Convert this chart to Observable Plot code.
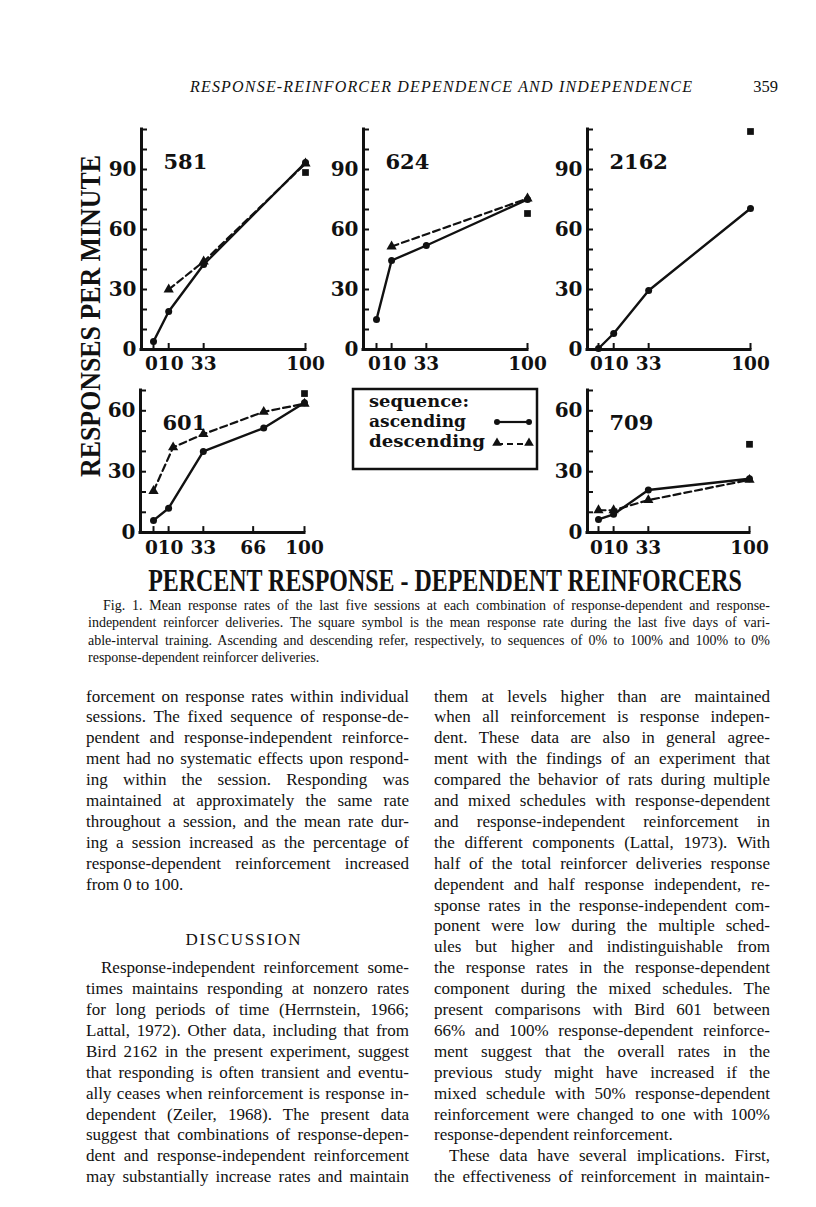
<!DOCTYPE html>
<html>
<head>
<meta charset="utf-8">
<script src="https://cdn.jsdelivr.net/npm/d3@7"></script>
<script src="https://cdn.jsdelivr.net/npm/@observablehq/plot@0.6"></script>
<style>
html,body{margin:0;padding:0;background:#fff;}
#page{position:relative;width:816px;height:1207px;background:#fff;overflow:hidden;}
</style>
</head>
<body>
<div id="page"></div>
<script>
// ---------------- DATA ----------------
const xTicks = [0, 10, 33, 100];
const xTicks601 = [0, 10, 33, 66, 100];
const yTickMarksTop = [0, 10, 20, 30, 40, 50, 60, 70, 80, 90, 100, 110];
const yTickLabelsTop = [0, 30, 60, 90];
const yTickMarksBottom = [0, 10, 20, 30, 40, 50, 60, 70];
const yTickLabelsBottom = [0, 30, 60];

// [percent response-dependent, responses per minute]
const asc581 = [[0, 4], [10, 19], [33, 42.5], [100, 93.5]];
const desc581 = [[10, 30], [33, 44], [100, 93]];
const square581 = [[100, 88.5]];

const asc624 = [[0, 15], [10, 44.5], [33, 52], [100, 75]];
const desc624 = [[10, 51.5], [100, 75.5]];
const square624 = [[100, 68]];

const asc2162 = [[0, 0.5], [10, 8], [33, 29.5], [100, 70.5]];
const desc2162 = [];
const square2162 = [[100, 109]];

const asc601 = [[0, 6], [10, 12], [33, 40], [73, 51.5], [100, 64]];
const desc601 = [[0, 20.5], [13, 42], [33, 48.5], [73, 59.5], [100, 63.5]];
const square601 = [[100, 68.5]];

const asc709 = [[0, 6.5], [10, 9], [33, 21], [100, 26.5]];
const desc709 = [[0, 11], [10, 11], [33, 16], [100, 26]];
const square709 = [[100, 43.5]];

const legendTitle = "sequence:";
const legendLabels = ["ascending", "descending"];

// ---------------- TEXTS ----------------
const runningHead = "RESPONSE-REINFORCER DEPENDENCE AND INDEPENDENCE";
const pageNumber = "359";
const yTitle = "RESPONSES PER MINUTE";
const xTitle = "PERCENT RESPONSE - DEPENDENT REINFORCERS";
const captionLines = [
  "Fig. 1. Mean response rates of the last five sessions at each combination of response-dependent and response-",
  "independent reinforcer deliveries. The square symbol is the mean response rate during the last five days of vari-",
  "able-interval training. Ascending and descending refer, respectively, to sequences of 0% to 100% and 100% to 0%",
  "response-dependent reinforcer deliveries."
];
const leftPara1 = [
  "forcement on response rates within individual",
  "sessions. The fixed sequence of response-de-",
  "pendent and response-independent reinforce-",
  "ment had no systematic effects upon respond-",
  "ing within the session. Responding was",
  "maintained at approximately the same rate",
  "throughout a session, and the mean rate dur-",
  "ing a session increased as the percentage of",
  "response-dependent reinforcement increased",
  "from 0 to 100."
];
const heading = "DISCUSSION";
const leftPara2 = [
  "Response-independent reinforcement some-",
  "times maintains responding at nonzero rates",
  "for long periods of time (Herrnstein, 1966;",
  "Lattal, 1972). Other data, including that from",
  "Bird 2162 in the present experiment, suggest",
  "that responding is often transient and eventu-",
  "ally ceases when reinforcement is response in-",
  "dependent (Zeiler, 1968). The present data",
  "suggest that combinations of response-depen-",
  "dent and response-independent reinforcement",
  "may substantially increase rates and maintain"
];
const rightPara1 = [
  "them at levels higher than are maintained",
  "when all reinforcement is response indepen-",
  "dent. These data are also in general agree-",
  "ment with the findings of an experiment that",
  "compared the behavior of rats during multiple",
  "and mixed schedules with response-dependent",
  "and response-independent reinforcement in",
  "the different components (Lattal, 1973). With",
  "half of the total reinforcer deliveries response",
  "dependent and half response independent, re-",
  "sponse rates in the response-independent com-",
  "ponent were low during the multiple sched-",
  "ules but higher and indistinguishable from",
  "the response rates in the response-dependent",
  "component during the mixed schedules. The",
  "present comparisons with Bird 601 between",
  "66% and 100% response-dependent reinforce-",
  "ment suggest that the overall rates in the",
  "previous study might have increased if the",
  "mixed schedule with 50% response-dependent",
  "reinforcement were changed to one with 100%",
  "response-dependent reinforcement."
];
const rightPara2 = [
  "These data have several implications. First,",
  "the effectiveness of reinforcement in maintain-"
];

// ---------------- LAYOUT ----------------
const INK = "#111";
const page = document.getElementById("page");
const BOLD = "DejaVu Serif";

function panel(name, asc, desc, sq, xt, ytm, ytl, L) {
  const ppx = (L.x100 - L.x0) / 100;
  const xmin = -(L.x0 - L.axisX) / ppx;
  const mL = 50, mR = 22, mT = 10, mB = 32;
  const innerH = L.ymax * L.ppu;
  const width = mL + (L.x100 - L.axisX) + mR;
  const height = mT + innerH + mB;
  const tx = 6 / ppx, ty = 6 / L.ppu;
  const fx = d => d[0], fy = d => d[1];
  const txt = {fontFamily: BOLD, fontWeight: "bold", fill: INK};
  const chart = Plot.plot({
    width, height, marginLeft: mL, marginRight: mR, marginTop: mT, marginBottom: mB,
    x: {domain: [xmin, 100], axis: null},
    y: {domain: [0, L.ymax], axis: null},
    style: {background: "transparent", overflow: "visible"},
    marks: [
      Plot.ruleX([xmin], {y1: 0, y2: L.ymax, stroke: INK, strokeWidth: 3, strokeLinecap: "square"}),
      Plot.ruleY([0], {x1: xmin, x2: 100, stroke: INK, strokeWidth: 3, strokeLinecap: "square"}),
      Plot.ruleY(ytm, {x1: xmin, x2: xmin + tx, stroke: INK, strokeWidth: 2}),
      Plot.ruleX(xt, {y1: 0, y2: ty, stroke: INK, strokeWidth: 2}),
      Plot.text(ytl, {x: xmin, y: d => d, dx: -5, textAnchor: "end", fontSize: 20, ...txt}),
      Plot.text(xt.filter(d => d === 0), {x: d => d, y: 0, dx: -2, dy: 15, fontSize: 18.5, ...txt}),
      Plot.text(xt.filter(d => d === 10), {x: d => d, y: 0, dx: 2, dy: 15, fontSize: 18.5, ...txt}),
      Plot.text(xt.filter(d => d > 10), {x: d => d, y: 0, dy: 15, fontSize: 18.5, ...txt}),
      Plot.text([name], {frameAnchor: "top-left", dx: 22, dy: 33, lineAnchor: "middle", fontSize: 21, ...txt}),
      Plot.line(desc, {x: fx, y: fy, stroke: INK, strokeWidth: 2.2, strokeDasharray: "7,4"}),
      Plot.dot(desc, {x: fx, y: fy, symbol: "triangle", r: 3.8, fill: INK, stroke: "none"}),
      Plot.line(asc, {x: fx, y: fy, stroke: INK, strokeWidth: 2.4}),
      Plot.dot(asc, {x: fx, y: fy, r: 3.5, fill: INK, stroke: "none"}),
      Plot.dot(sq, {x: fx, y: fy, symbol: "square", r: 3.8, fill: INK, stroke: "none"})
    ]
  });
  chart.style.position = "absolute";
  chart.style.left = (L.axisX - mL) + "px";
  chart.style.top = (L.yBase - innerH - mT) + "px";
  chart.style.maxWidth = "none";
  page.appendChild(chart);
}

panel("581", asc581, desc581, square581, xTicks, yTickMarksTop, yTickLabelsTop,
  {axisX: 141, x0: 153, x100: 305, yBase: 349, ppu: 2.0, ymax: 110});
panel("624", asc624, desc624, square624, xTicks, yTickMarksTop, yTickLabelsTop,
  {axisX: 363, x0: 376, x100: 527, yBase: 349, ppu: 2.0, ymax: 110});
panel("2162", asc2162, desc2162, square2162, xTicks, yTickMarksTop, yTickLabelsTop,
  {axisX: 587, x0: 598, x100: 750, yBase: 349, ppu: 2.0, ymax: 110});
panel("601", asc601, desc601, square601, xTicks601, yTickMarksBottom, yTickLabelsBottom,
  {axisX: 140, x0: 153, x100: 304, yBase: 532, ppu: 2.03, ymax: 70});
panel("709", asc709, desc709, square709, xTicks, yTickMarksBottom, yTickLabelsBottom,
  {axisX: 587, x0: 598, x100: 749, yBase: 532, ppu: 2.03, ymax: 70});

// ---------------- TEXT OVERLAY ----------------
const svg = d3.select(page).append("svg")
  .attr("width", 816).attr("height", 1207)
  .style("position", "absolute").style("left", 0).style("top", 0)
  .style("pointer-events", "none");

function addLine(text, x, y, width, o = {}) {
  const t = svg.append("text")
    .attr("x", x).attr("y", y)
    .attr("font-family", o.family || "Liberation Serif")
    .attr("font-size", o.size || 17)
    .attr("font-weight", o.weight || "normal")
    .attr("font-style", o.style || "normal")
    .attr("fill", INK)
    .text(text);
  if (o.anchor) t.attr("text-anchor", o.anchor);
  if (o.fit) {
    t.attr("textLength", width).attr("lengthAdjust", o.fit);
  } else if (o.justify) {
    const w = t.node().getComputedTextLength();
    const n = (text.match(/ /g) || []).length;
    if (n > 0) t.style("word-spacing", ((width - w) / n) + "px");
  }
  return t;
}

// condensed title: horizontal scale so that the natural width matches
function addScaled(text, cx, cy, targetW, o = {}) {
  const g = svg.append("g");
  const t = g.append("text")
    .attr("x", 0).attr("y", 0).attr("text-anchor", "middle")
    .attr("font-family", "Liberation Serif").attr("font-weight", "bold")
    .attr("font-size", o.size).attr("fill", INK).text(text);
  const w = t.node().getComputedTextLength();
  const s = targetW / w;
  g.attr("transform", o.rotate
    ? `translate(${cx},${cy}) rotate(-90) scale(${s},1)`
    : `translate(${cx},${cy}) scale(${s},1)`);
  return g;
}

// running head
addLine(runningHead, 190, 92, 502, {style: "italic", size: 16, fit: "spacing"});
addLine(pageNumber, 778, 92, 0, {size: 16.5, anchor: "end"});

// axis titles
addScaled(yTitle, 100, 316, 322, {size: 29, rotate: true});
addScaled(xTitle, 445, 591, 594, {size: 31});

// caption
const capL = 88, capR = 770, capY0 = 610, capDY = 17.3;
captionLines.forEach((s, i) => {
  const indent = i === 0 ? 15 : 0;
  addLine(s, capL + indent, capY0 + i * capDY, capR - capL - indent,
    {size: 14, justify: i < captionLines.length - 1});
});

// body columns
const colL = [86, 409], colR = [434, 770], base0 = 701.5, lh = 20.9, indent = 15;
leftPara1.forEach((s, i) => {
  addLine(s, colL[0], base0 + i * lh, colL[1] - colL[0], {justify: i < leftPara1.length - 1});
});
addLine(heading, 243, 945, 115, {anchor: "middle", fit: "spacing", size: 17});
leftPara2.forEach((s, i) => {
  const ind = i === 0 ? indent : 0;
  addLine(s, colL[0] + ind, base0 + (13 + i) * lh, colL[1] - colL[0] - ind, {justify: true});
});
rightPara1.forEach((s, i) => {
  addLine(s, colR[0], base0 + i * lh, colR[1] - colR[0], {justify: i < rightPara1.length - 1});
});
rightPara2.forEach((s, i) => {
  const ind = i === 0 ? indent : 0;
  addLine(s, colR[0] + ind, base0 + (22 + i) * lh, colR[1] - colR[0] - ind, {justify: true});
});

// ---------------- LEGEND ----------------
const lg = svg.append("g");
lg.append("rect").attr("x", 353).attr("y", 389).attr("width", 184).attr("height", 80)
  .attr("fill", "none").attr("stroke", INK).attr("stroke-width", 2.5);
const lgText = (s, y, w) => lg.append("text").attr("x", 369).attr("y", y)
  .attr("font-family", BOLD).attr("font-weight", "bold").attr("font-size", 17)
  .attr("textLength", w).attr("lengthAdjust", "spacingAndGlyphs")
  .attr("fill", INK).text(s);
lgText(legendTitle, 407, 100);
lgText(legendLabels[0], 427, 97);
lgText(legendLabels[1], 447, 116);
// ascending symbol
lg.append("line").attr("x1", 497).attr("x2", 529).attr("y1", 422).attr("y2", 422)
  .attr("stroke", INK).attr("stroke-width", 2.2);
[497, 529].forEach(x => lg.append("circle").attr("cx", x).attr("cy", 422).attr("r", 3).attr("fill", INK));
// descending symbol
lg.append("line").attr("x1", 497).attr("x2", 529).attr("y1", 444).attr("y2", 444)
  .attr("stroke", INK).attr("stroke-width", 2).attr("stroke-dasharray", "6,4");
const tri = d3.symbol(d3.symbolTriangle, 40)();
[497, 529].forEach(x => lg.append("path").attr("d", tri)
  .attr("transform", `translate(${x},443)`).attr("fill", INK));
</script>
</body>
</html>
